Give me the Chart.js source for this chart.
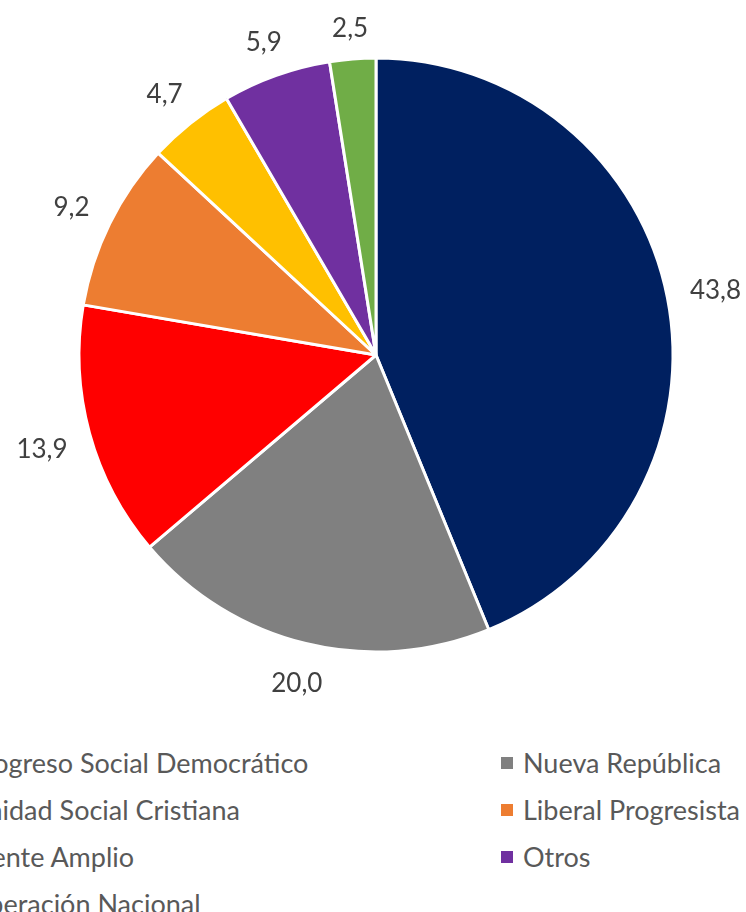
<!DOCTYPE html>
<html>
<head>
<meta charset="utf-8">
<script src="https://cdn.jsdelivr.net/npm/chart.js@4.4.1/dist/chart.umd.min.js"></script>
<style>
    html, body { margin: 0; padding: 0; background: #fff; overflow: hidden; }
    #wrap { position: relative; width: 746px; height: 912px; overflow: hidden; }
    #chart-box { position: absolute; left: 0; top: 0; width: 746px; height: 720px; }
    .legend-col { position: absolute; top: 739px; font-family: Lato, sans-serif; font-size: 27px; color: #595959; }
    .legend-item { height: 47px; line-height: 47px; white-space: nowrap; display: flex; align-items: center; }
    .legend-item i { display: inline-block; width: 12px; height: 12px; margin-right: 10px; }
</style>
</head>
<body>
<div id="wrap">
    <div id="chart-box"><canvas id="pieChart"></canvas></div>
    <div class="legend-col" id="legend-left" style="left:-54px;"></div>
    <div class="legend-col" id="legend-right" style="left:501px;"></div>
</div>
<script>
// Data
const partyLabels = ['Progreso Social Democrático', 'Nueva República', 'Unidad Social Cristiana',
    'Liberal Progresista', 'Frente Amplio', 'Otros', 'Liberación Nacional'];
const voteShare = [43.8, 20.0, 13.9, 9.2, 4.7, 5.9, 2.5];
const partyColors = ['#002060', '#808080', '#FF0000', '#ED7D31', '#FFC000', '#7030A0', '#70AD47'];

function fmtValue(v) {
    return v.toFixed(1).replace('.', ',');
}

// Labels outside each slice, like Excel "outside end"
const outsideLabels = {
    id: 'outsideLabels',
    afterDatasetsDraw(chart) {
        const ctx = chart.ctx;
        const meta = chart.getDatasetMeta(0);
        ctx.save();
        ctx.font = '26px Lato, sans-serif';
        ctx.fillStyle = '#404040';
        ctx.textAlign = 'center';
        ctx.textBaseline = 'middle';
        meta.data.forEach((arc, i) => {
            const p = arc.getProps(['x', 'y', 'startAngle', 'endAngle', 'outerRadius'], true);
            const mid = (p.startAngle + p.endAngle) / 2;
            const txt = fmtValue(voteShare[i]);
            const w = ctx.measureText(txt).width;
            const h = 20;
            const c = Math.cos(mid), s = Math.sin(mid);
            const off = 22 + Math.abs(c) * w / 2 + Math.abs(s) * h / 2;
            const r = p.outerRadius + off;
            ctx.fillText(txt, p.x + c * r, p.y + s * r + 3);
        });
        ctx.restore();
    }
};

const ctx = document.getElementById('pieChart').getContext('2d');
new Chart(ctx, {
    type: 'pie',
    data: {
        labels: partyLabels,
        datasets: [{
            data: voteShare,
            backgroundColor: partyColors,
            borderColor: '#ffffff',
            borderWidth: 3
        }]
    },
    options: {
        responsive: true,
        maintainAspectRatio: false,
        animation: false,
        layout: { padding: { left: 77.5, right: 71.5, top: 56.5, bottom: 66.5 } },
        plugins: {
            legend: { display: false },
            tooltip: { enabled: false }
        }
    },
    plugins: [outsideLabels]
});

// Legend: two columns, filled row by row
const leftCol = document.getElementById('legend-left');
const rightCol = document.getElementById('legend-right');
partyLabels.forEach((name, i) => {
    const item = document.createElement('div');
    item.className = 'legend-item';
    item.innerHTML = `<i style="background:${partyColors[i]}"></i><span>${name}</span>`;
    (i % 2 === 0 ? leftCol : rightCol).appendChild(item);
});
</script>
</body>
</html>
